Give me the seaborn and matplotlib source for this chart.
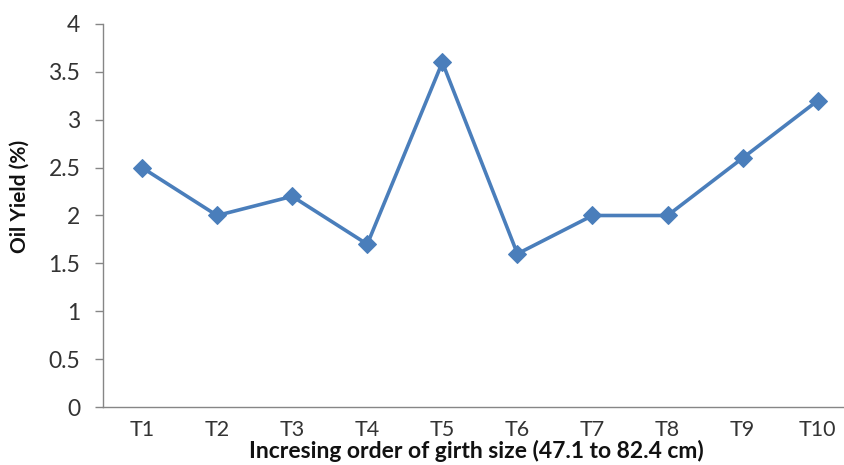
import matplotlib
matplotlib.use("Agg")
import matplotlib.pyplot as plt
import pandas as pd
import seaborn as sns

# values
treatments = ["T1", "T2", "T3", "T4", "T5", "T6", "T7", "T8", "T9", "T10"]
oil_yield = [2.5, 2.0, 2.2, 1.7, 3.6, 1.6, 2.0, 2.0, 2.6, 3.2]
y_ticks = [0, 0.5, 1, 1.5, 2, 2.5, 3, 3.5, 4]
y_tick_labels = ["0", "0.5", "1", "1.5", "2", "2.5", "3", "3.5", "4"]

sns.set_theme(style="white")
plt.rcParams["font.family"] = ["Lato", "DejaVu Sans"]

df = pd.DataFrame({"treatment": treatments, "oil_yield": oil_yield})

fig = plt.figure(figsize=(8.44, 4.65), dpi=100)
ax = fig.add_axes([103 / 844, 1 - 407 / 465, 1 - 103 / 844, (407 - 24) / 465])

sns.lineplot(data=df, x="treatment", y="oil_yield", ax=ax, sort=False,
             color="#4a7ebb", linewidth=2.6, marker="D", markersize=9,
             markeredgecolor="#4a7ebb", markerfacecolor="#4a7ebb")

ax.set_ylim(0, 4)
ax.set_xlim(-0.52, 9.35)
ax.set_yticks(y_ticks)
ax.set_yticklabels(y_tick_labels)

for side in ["top", "right"]:
    ax.spines[side].set_visible(False)
for side in ["left", "bottom"]:
    ax.spines[side].set_color("#868686")
    ax.spines[side].set_linewidth(1.0)

ax.tick_params(axis="y", left=True, length=5.8, width=1, color="#868686",
               labelsize=16.5, labelcolor="#333333", pad=10.5)
ax.tick_params(axis="x", bottom=False, labelsize=15.5, labelcolor="#333333", pad=3)

ax.set_xlabel("Incresing order of girth size (47.1 to 82.4 cm)", fontsize=16.5,
              fontweight="bold", color="#111111")
ax.set_ylabel("Oil Yield (%)", fontsize=15, fontweight="bold", color="#111111")
ax.xaxis.set_label_coords(0.5035, -0.086)
ax.yaxis.set_label_coords(-0.099, 0.55)

fig.savefig("out.png", dpi=100)
